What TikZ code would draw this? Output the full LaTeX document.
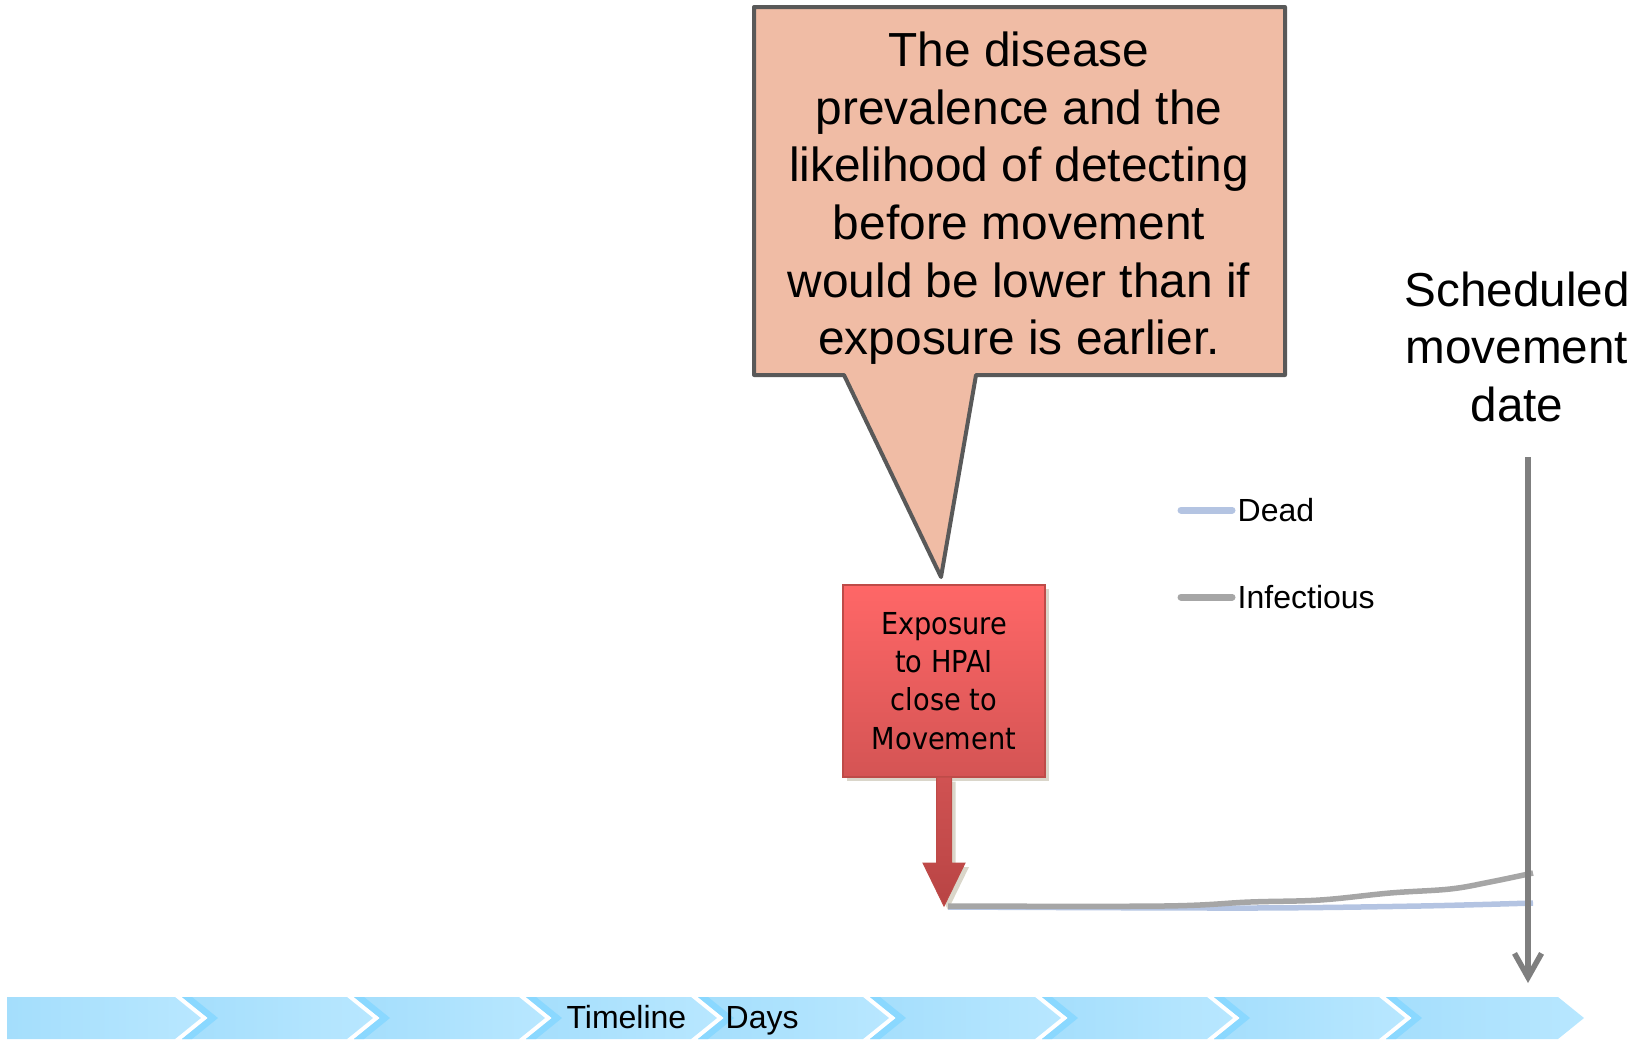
\documentclass[tikz,border=0pt]{standalone}
\usepackage{fontspec}
\setmainfont{Liberation Sans}
\newfontfamily\boxfont[FakeStretch=0.9]{DejaVu Sans}
\usetikzlibrary{arrows.meta,calc,shadows,positioning}

\definecolor{notefill}{RGB}{240,188,165}
\definecolor{noteline}{RGB}{89,89,89}
\definecolor{exptop}{RGB}{255,103,103}
\definecolor{expbot}{RGB}{212,84,84}
\definecolor{expline}{RGB}{190,75,72}
\definecolor{arrtop}{RGB}{208,82,82}
\definecolor{arrbot}{RGB}{184,68,68}
\definecolor{shadowc}{RGB}{214,210,196}
\definecolor{infc}{RGB}{166,166,166}
\definecolor{deadc}{RGB}{180,196,226}
\definecolor{movec}{RGB}{127,127,127}
\definecolor{tlleft}{RGB}{164,222,252}
\definecolor{tlright}{RGB}{184,231,255}
\definecolor{tldark}{RGB}{138,216,255}

\begin{document}
\begin{tikzpicture}[x=0.01cm, y=-0.01cm,
  callout/.style={fill=notefill, draw=noteline, line width=0.04cm, line join=round},
  notetext/.style={inner sep=0pt, align=center, font=\fontsize{13.6}{16.4}\selectfont},
  expbox/.style={top color=exptop, bottom color=expbot, draw=expline, line width=0.012cm,
    minimum width=2.02cm, minimum height=1.92cm, align=center,
    font=\boxfont\fontsize{8.6}{10.9}\selectfont,
    drop shadow={shadow xshift=0.04cm, shadow yshift=-0.04cm, fill=shadowc, opacity=0.9}},
  exparrow/.style={top color=arrtop, bottom color=arrbot, draw=expline, line width=0.01cm,
    drop shadow={shadow xshift=0.04cm, shadow yshift=-0.04cm, fill=shadowc, opacity=0.9}},
  infline/.style={draw=infc, line width=0.055cm},
  deadline/.style={draw=deadc, line width=0.055cm},
  legline/.style={line width=0.07cm, line cap=round},
  legtext/.style={anchor=west, inner sep=0pt, font=\fontsize{9.1}{11}\selectfont},
  schedtext/.style={inner sep=0pt, align=center, font=\fontsize{13.55}{16.4}\selectfont},
  movearrow/.style={draw=movec, line width=0.055cm, -{Straight Barb[length=0.24cm, width=0.27cm]}},
  tltext/.style={inner sep=0pt, font=\fontsize{9.1}{10}\selectfont}]

\useasboundingbox (0,0) rectangle (1643,1039);

% callout
\path[callout] (754,7) -- (1285,7) -- (1285,375) -- (976,375) -- (941,577) -- (844,375) -- (754,375) -- cycle;
\node[notetext, anchor=north] (nnote) at (1019,31) {The disease\\prevalence and the\\likelihood of detecting\\before movement\\would be lower than if\\exposure is earlier.};

% exposure box + arrow
\node[expbox] (nexp) at (944,681) {Exposure\\to HPAI\\close to\\Movement};
\coordinate (t0) at (944,906);
\path[exparrow] ($(nexp.south)+(-7.5,0)$) -- ($(t0)+(-7.5,-43)$) -- ($(t0)+(-21,-43)$) -- (t0)
  -- ($(t0)+(21,-43)$) -- ($(t0)+(7.5,-43)$) -- ($(nexp.south)+(7.5,0)$);

% curves
\draw[deadline] plot[smooth, tension=0.5] coordinates {(948,907) (1250,908) (1420,906) (1533,903)};
\draw[infline] plot[smooth, tension=0.6] coordinates {(948,906) (1163,906) (1250,902) (1320,900)
  (1390,893) (1450,889) (1490,882) (1533,873)};

% legend
\node[legtext] (ndead) at (1237,510) {Dead};
\node[legtext] (ninf) at (1237,597) {Infectious};
\draw[legline, deadc] ($(ndead.west)+(-56,0)$) -- ($(ndead.west)+(-5,0)$);
\draw[legline, infc] ($(ninf.west)+(-56,0)$) -- ($(ninf.west)+(-5,0)$);

% scheduled movement
\node[schedtext, anchor=north] (nsched) at (1517,271) {Scheduled\\movement\\date};
\coordinate (mv0) at (1528,457);
\coordinate (mv1) at (1528,983);
\draw[movearrow] (mv0) -- (mv1);

% timeline
\foreach \l/\r/\d in {7/175/0, 182/347/26, 354/519/26, 526/691/26, 698/863/26,
    870/1035/26, 1042/1207/26, 1214/1379/26, 1386/1558/26} {
  \shade[left color=tlleft, right color=tlright] (\l,997) -- (\r,997) -- ({\r+26},1018)
    -- (\r,1039) -- (\l,1039) -- ({\l+\d},1018) -- cycle;
}
\foreach \l in {182,354,526,698,870,1042,1214,1386}
  \fill[tldark] (\l,997) -- ({\l+10},997) -- ({\l+36},1018) -- ({\l+10},1039) -- (\l,1039) -- ({\l+26},1018) -- cycle;

\node[tltext, anchor=base east] (ntl) at (687,1028) {Timeline};
\node[tltext, anchor=base west] (ndays) at (725,1028) {Days};

\end{tikzpicture}
\end{document}
